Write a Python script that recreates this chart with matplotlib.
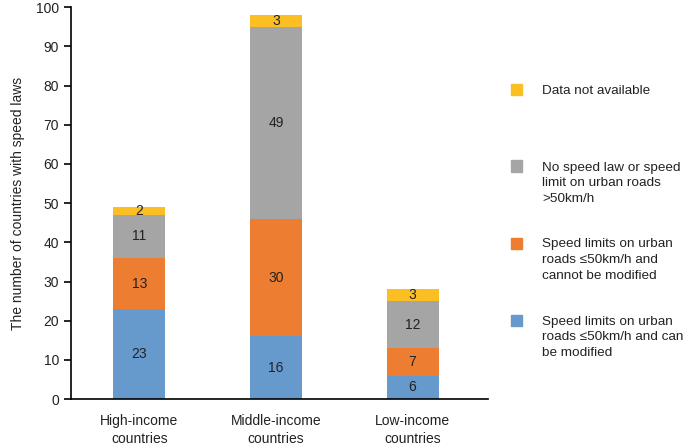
import matplotlib
matplotlib.use("Agg")
import matplotlib.pyplot as plt
from matplotlib.patches import Rectangle

categories = ["High-income\ncountries", "Middle-income\ncountries", "Low-income\ncountries"]
modifiable = [23, 16, 6]
not_modifiable = [13, 30, 7]
no_law = [11, 49, 12]
not_available = [2, 3, 3]

series = [modifiable, not_modifiable, no_law, not_available]
colors = ["#6699CC", "#ED7D31", "#A5A5A5", "#FBBF24"]
legend_labels = [
    "Speed limits on urban\nroads \u226450km/h and can\nbe modified",
    "Speed limits on urban\nroads \u226450km/h and\ncannot be modified",
    "No speed law or speed\nlimit on urban roads\n>50km/h",
    "Data not available",
]

plt.rcParams['font.family'] = ['Liberation Sans', 'DejaVu Sans']

fig = plt.figure(figsize=(6.85, 4.47), dpi=100)
ax = fig.add_axes([0.1036, 0.107, 0.712 - 0.1036, 0.877])

x = list(range(len(categories)))
bottom = [0] * len(categories)
for vals, c in zip(series, colors):
    ax.bar(x, vals, width=0.38, bottom=bottom, color=c, edgecolor="none")
    for xi, v, b in zip(x, vals, bottom):
        ax.text(xi, b + v / 2, str(v), ha="center", va="center", fontsize=10, color="#222222")
    bottom = [b + v for b, v in zip(bottom, vals)]

ax.set_xlim(-0.5, 2.55)
ax.set_ylim(0, 100)
ax.set_yticks(range(0, 101, 10))
ax.set_xticks(x)
ax.set_xticklabels(categories, fontsize=10, color="#222222", linespacing=1.3)
ax.tick_params(axis="x", length=0, pad=11)
ax.tick_params(axis="y", labelsize=10, length=5, width=1.2, labelcolor="#222222")
for s in ["top", "right"]:
    ax.spines[s].set_visible(False)
ax.spines["left"].set_linewidth(1.2)
ax.spines["bottom"].set_linewidth(1.2)
ax.set_ylabel("The number of countries with speed laws", fontsize=10, color="#222222", labelpad=8)

# manual legend
ys = [320, 243, 166, 90]
for y, c, lab in zip(ys, colors, legend_labels):
    yf = 1 - y / 447
    fig.patches.append(Rectangle((511 / 685, yf - 5.5 / 447), 11 / 685, 11 / 447,
                                 transform=fig.transFigure, color=c, figure=fig))
    fig.text(542 / 685, yf + 4.5 / 447, lab, ha="left", va="top", fontsize=9.7,
             color="#222222", linespacing=1.42)

fig.savefig("out.png", dpi=100)
